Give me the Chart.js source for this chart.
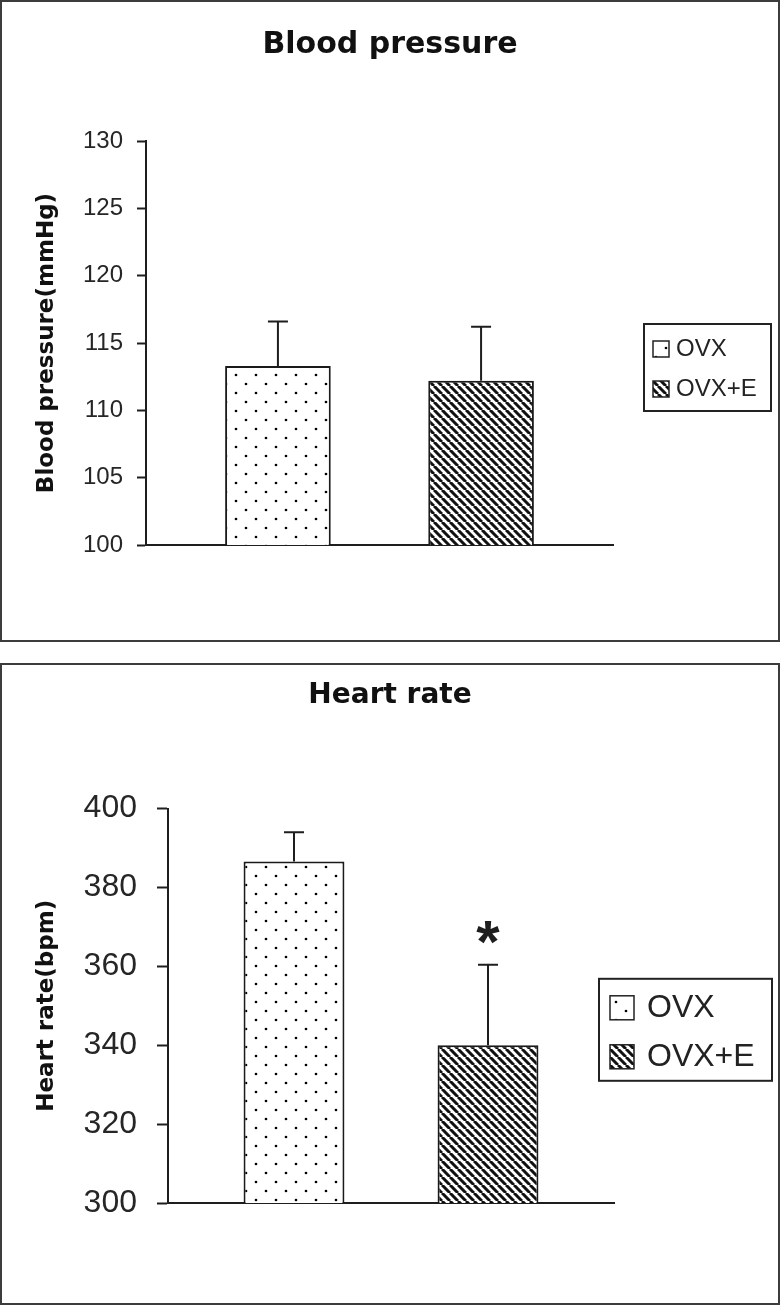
<!DOCTYPE html>
<html><head><meta charset="utf-8">
<script src="https://cdn.jsdelivr.net/npm/chart.js@4/dist/chart.umd.min.js"></script>
<style>
html,body{margin:0;padding:0;background:#fff;}
body{width:780px;height:1305px;position:relative;overflow:hidden;}
.box{position:absolute;left:0;width:776px;height:638px;border:2px solid #3c3c3c;background:#fff;}
.box canvas{display:block;}
</style></head><body>
<div class="box" style="top:0"><canvas id="c1" width="776" height="638"></canvas></div>
<div class="box" style="top:663px"><canvas id="c2" width="776" height="638"></canvas></div>
<script>
// ---- data ----
const seriesLabels = ['OVX', 'OVX+E'];
const bpTitle = 'Blood pressure';
const bpAxisTitle = 'Blood pressure(mmHg)';
const bpMeans = [113.3, 112.2];
const bpErrors = [3.3, 4.0];
const bpSignificance = ['', ''];
const bpTicks = [100, 105, 110, 115, 120, 125, 130];

const hrTitle = 'Heart rate';
const hrAxisTitle = 'Heart rate(bpm)';
const hrMeans = [386.6, 340.0];
const hrErrors = [7.4, 20.4];
const hrSignificance = ['', '*'];
const hrTicks = [300, 320, 340, 360, 380, 400];

// ---- patterns ----
function dotPattern() {
  const c = document.createElement('canvas'); c.width = 20; c.height = 18;
  const x = c.getContext('2d');
  x.fillStyle = '#fff'; x.fillRect(0, 0, 20, 18);
  x.fillStyle = '#000';
  x.beginPath(); x.arc(4, 4, 1.35, 0, Math.PI * 2); x.fill();
  x.beginPath(); x.arc(14, 13, 1.35, 0, Math.PI * 2); x.fill();
  return x.createPattern(c, 'repeat');
}
function hatchPattern() {
  const c = document.createElement('canvas'); c.width = 8; c.height = 8;
  const x = c.getContext('2d');
  x.fillStyle = '#fff'; x.fillRect(0, 0, 8, 8);
  x.strokeStyle = '#111'; x.lineWidth = 3;
  x.beginPath();
  for (let k = -1; k <= 1; k++) { x.moveTo(k * 8, 0); x.lineTo(k * 8 + 8, 8); }
  x.stroke();
  return x.createPattern(c, 'repeat');
}

// ---- plugins ----
const errorBarPlugin = {
  id: 'errorBars',
  afterDatasetsDraw(chart, args, o) {
    const ctx = chart.ctx, ys = chart.scales.y;
    chart.data.datasets.forEach((ds, i) => {
      const meta = chart.getDatasetMeta(i);
      meta.data.forEach((bar, j) => {
        const top = ys.getPixelForValue(ds.data[j] + ds.errors[j]);
        ctx.save();
        ctx.strokeStyle = '#1e1e1e'; ctx.lineWidth = 2;
        ctx.beginPath();
        ctx.moveTo(bar.x, bar.y); ctx.lineTo(bar.x, top);
        ctx.moveTo(bar.x - o.cap, top); ctx.lineTo(bar.x + o.cap, top);
        ctx.stroke();
        if (ds.sig && ds.sig[j]) {
          ctx.fillStyle = '#1e1e1e'; ctx.font = o.starFont;
          ctx.textAlign = 'center'; ctx.textBaseline = 'middle';
          ctx.fillText(ds.sig[j], bar.x, top - o.starGap);
        }
        ctx.restore();
      });
    });
  }
};
const boxLegendPlugin = {
  id: 'boxLegend',
  afterDraw(chart, args, o) {
    const ca = chart.chartArea, ctx = chart.ctx;
    const left = ca.right + o.dx;
    const top = (ca.top + ca.bottom) / 2 + o.dy - o.h / 2;
    ctx.save();
    ctx.strokeStyle = '#222'; ctx.lineWidth = 2;
    ctx.strokeRect(left, top, o.w, o.h);
    chart.data.datasets.forEach((ds, i) => {
      const cy = top + o.rows[i];
      ctx.fillStyle = ds.backgroundColor;
      ctx.fillRect(left + o.sx, cy - o.s / 2, o.s, o.s);
      ctx.lineWidth = 1.5; ctx.strokeStyle = '#222';
      ctx.strokeRect(left + o.sx, cy - o.s / 2, o.s, o.s);
      ctx.fillStyle = '#222'; ctx.font = o.font;
      ctx.textAlign = 'left'; ctx.textBaseline = 'middle';
      ctx.fillText(ds.label, left + o.tx, cy);
    });
    ctx.restore();
  }
};

function makeChart(id, cfg) {
  const fills = [dotPattern(), hatchPattern()];
  return new Chart(document.getElementById(id), {
    type: 'bar',
    data: {
      labels: [''],
      datasets: seriesLabels.map((lab, i) => ({
        label: lab,
        data: [cfg.means[i]],
        errors: [cfg.errors[i]],
        sig: [cfg.sig[i]],
        backgroundColor: fills[i],
        borderColor: '#1a1a1a',
        borderWidth: 2,
        borderSkipped: false,
        categoryPercentage: 0.87,
        barPercentage: 0.52
      }))
    },
    options: {
      responsive: false,
      animation: false,
      layout: { padding: { left: 0, right: 0, top: 0, bottom: cfg.padBottom } },
      scales: {
        x: {
          grid: { display: false, drawTicks: false },
          ticks: { display: false },
          border: { display: true, color: '#1e1e1e', width: 2 },
          afterFit(s) { s.height = 0; }
        },
        y: {
          min: cfg.ticks[0],
          max: cfg.ticks[cfg.ticks.length - 1],
          afterBuildTicks(s) { s.ticks = cfg.ticks.map(v => ({ value: v })); },
          afterFit(s) { s.width = cfg.axisW; },
          grid: { display: true, drawOnChartArea: false, drawTicks: true, tickLength: cfg.tickLen, tickColor: '#1e1e1e', tickWidth: 2 },
          border: { display: true, color: '#1e1e1e', width: 2 },
          ticks: { padding: cfg.tickPad, color: '#262626', font: { family: 'Liberation Sans', size: cfg.tickSize } },
          title: {
            display: true, text: cfg.axisTitle, color: '#111',
            font: { family: 'DejaVu Sans', size: 23, weight: 'bold' },
            padding: { top: 31, bottom: 0 }
          }
        },
        legendSpace: {
          type: 'linear', position: 'right', display: true,
          grid: { display: false, drawTicks: false },
          ticks: { display: false },
          border: { display: false },
          afterFit(s) { s.width = cfg.rightSpace; }
        }
      },
      plugins: {
        legend: { display: false },
        tooltip: { enabled: false },
        title: {
          display: true, text: cfg.title, color: '#111',
          font: { family: 'DejaVu Sans', size: cfg.titleSize, weight: 'bold' },
          padding: cfg.titlePad
        },
        errorBars: { cap: 10, starFont: 'bold 60px "Liberation Sans"', starGap: 19 },
        boxLegend: cfg.legend
      }
    },
    plugins: [errorBarPlugin, boxLegendPlugin]
  });
}

makeChart('c1', {
  means: bpMeans, errors: bpErrors, sig: bpSignificance, ticks: bpTicks,
  title: bpTitle, axisTitle: bpAxisTitle, titleSize: 30, titlePad: { top: 25, bottom: 78 },
  rightSpace: 165, padBottom: 95, axisW: 144, tickLen: 9, tickPad: 14, tickSize: 24,
  legend: { dx: 31, dy: 24.5, w: 127, h: 87, rows: [25, 65], s: 16, sx: 9, tx: 32, font: '24px "Liberation Sans"' }
});
makeChart('c2', {
  means: hrMeans, errors: hrErrors, sig: hrSignificance, ticks: hrTicks,
  title: hrTitle, axisTitle: hrAxisTitle, titleSize: 28, titlePad: { top: 14, bottom: 96 },
  rightSpace: 164, padBottom: 100, axisW: 166, tickLen: 11, tickPad: 20, tickSize: 32,
  legend: { dx: -15, dy: 24, w: 173, h: 102, rows: [29, 78], s: 24, sx: 11, tx: 48, font: '32px "Liberation Sans"' }
});
</script>
</body></html>
